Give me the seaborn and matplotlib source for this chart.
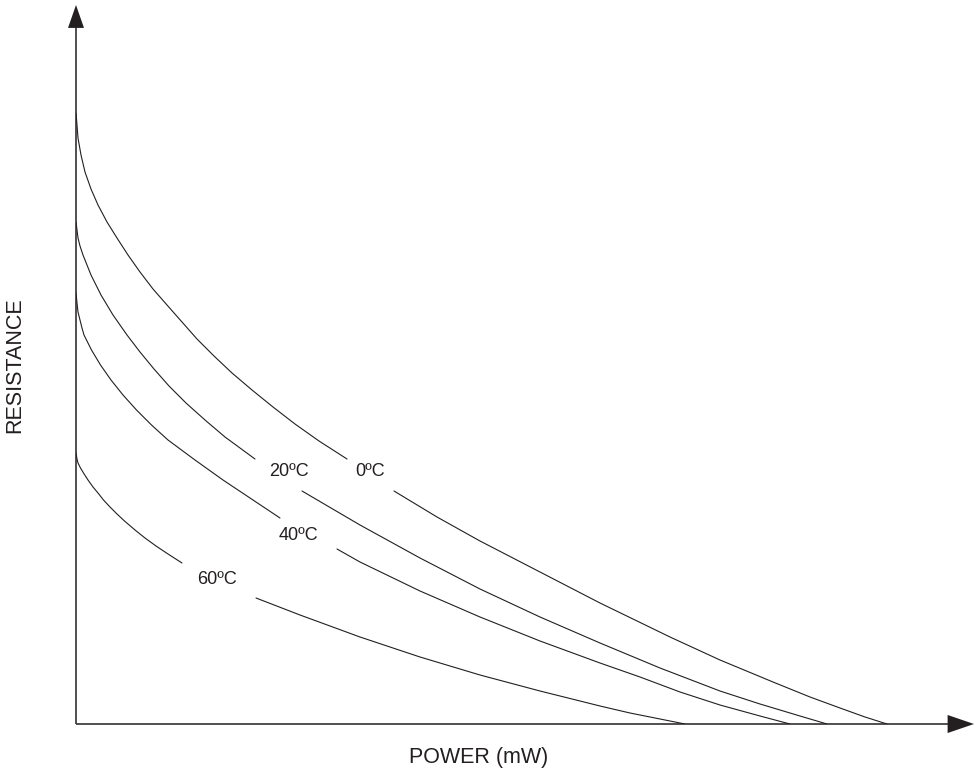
import matplotlib
matplotlib.use("Agg")
import matplotlib.pyplot as plt
import seaborn as sns
import pandas as pd

# values (arbitrary units, origin at the axes corner)
# each curve is split in two pieces around its label
c0_power_a = [0, 1, 2, 5, 9, 15, 22, 31, 41, 52, 64, 77, 91, 106, 121, 138,
              156, 176, 197, 219, 243, 271]
c0_res_a = [611, 599, 586, 569, 552, 535, 519, 502, 486, 469, 452, 435, 419,
            402, 385, 368, 351, 334, 317, 300, 283, 265]
c0_power_b = [318, 361, 404, 464, 524, 594, 644, 697, 734, 764, 789, 811]
c0_res_b = [233, 207, 183, 152, 121, 87, 64, 42, 27, 16, 7, 0]

c20_power_a = [0, 1, 2, 4, 7, 11, 15, 20, 25, 31, 37, 44, 51, 64, 78, 93,
               110, 129, 149, 179]
c20_res_a = [502, 494, 486, 478, 469, 459, 449, 439, 429, 419, 409, 399, 389,
             372, 355, 338, 321, 304, 287, 265]
c20_power_b = [226, 284, 344, 404, 464, 524, 584, 644, 684, 724, 751]
c20_res_b = [233, 199, 166, 135, 107, 81, 56, 33, 20, 8, 0]

c40_power_a = [0, 1, 2, 4, 6, 8, 15.5, 24.5, 35, 47, 60.5, 75.5, 92, 119,
               147, 177, 204]
c40_res_a = [431, 421, 412, 404, 396, 389, 374, 359, 344, 329, 314, 299, 284,
             264, 244, 224, 206]
c40_power_b = [261, 284, 344, 404, 464, 524, 564, 604, 644, 684, 714]
c40_res_b = [175, 162, 133, 107, 83, 61, 47, 32, 19, 8, 0]

c60_power_a = [0, 1, 2, 4.5, 7.5, 12, 17, 22, 27.5, 34, 41, 48.5, 59, 69, 80,
               92, 106]
c60_res_a = [271, 265, 261, 256, 251, 244, 237, 231, 224, 217, 210, 203, 194,
             186, 178, 170, 161]
c60_power_b = [180, 224, 284, 344, 404, 464, 524, 554, 584, 609]
c60_res_b = [126, 109, 87, 67, 49, 33, 18, 11, 5, 0]

labels = ["0ºC", "20ºC", "40ºC", "60ºC"]
label_power = [294, 213, 222, 141]
label_res = [252, 252, 189, 144]

pieces = [
    (c0_power_a, c0_res_a), (c0_power_b, c0_res_b),
    (c20_power_a, c20_res_a), (c20_power_b, c20_res_b),
    (c40_power_a, c40_res_a), (c40_power_b, c40_res_b),
    (c60_power_a, c60_res_a), (c60_power_b, c60_res_b),
]
rows = []
for i, (p, r) in enumerate(pieces):
    for a, b in zip(p, r):
        rows.append({"power": a, "resistance": b, "seg": i})
df = pd.DataFrame(rows)

sns.set_style("white")
plt.rcParams["font.family"] = ["Liberation Sans", "DejaVu Sans"]

ink = "#231f20"
fig = plt.figure(figsize=(9.77, 7.77), dpi=100)
ax = fig.add_axes([76 / 977, 53 / 777, 898 / 977, 719 / 777])

sns.lineplot(data=df, x="power", y="resistance", units="seg", estimator=None,
             sort=False, color=ink, linewidth=0.8, legend=False, ax=ax)

for t, x, y in zip(labels, label_power, label_res):
    ax.text(x, y, t, fontsize=13, color=ink, ha="center", va="center")

# axes with arrow heads
ax.annotate("", xy=(898, 0), xytext=(0, 0),
            arrowprops=dict(width=1.1, headwidth=13, headlength=19,
                            facecolor=ink, edgecolor="none", shrink=0))
ax.annotate("", xy=(0, 719), xytext=(0, 0),
            arrowprops=dict(width=1.1, headwidth=11.5, headlength=16.5,
                            facecolor=ink, edgecolor="none", shrink=0))

ax.set_xlim(0, 898)
ax.set_ylim(0, 719)
ax.set_xticks([])
ax.set_yticks([])
ax.set_xlabel("")
ax.set_ylabel("")
for s in ax.spines.values():
    s.set_visible(False)

fig.text(15 / 977, 1 - 365 / 777, "RESISTANCE", rotation=90, fontsize=15.5,
         color=ink, ha="center", va="center")
fig.text(479 / 977, 1 - 757 / 777, "POWER (mW)", fontsize=15.5,
         color=ink, ha="center", va="center")

fig.savefig("out.png", dpi=100, facecolor="white")
